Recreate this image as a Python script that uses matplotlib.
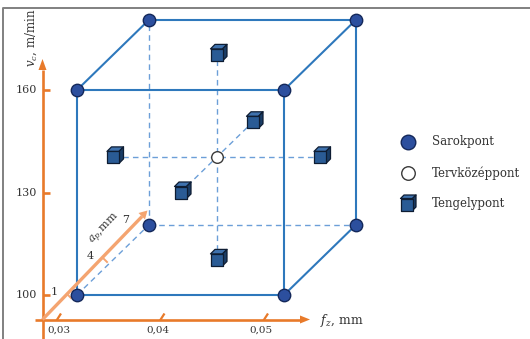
import itertools
import matplotlib
matplotlib.use("Agg")
import matplotlib.pyplot as plt
from matplotlib.patches import Polygon

# Factor levels of the face-centred central composite design
FZ_LEVELS = [0.03, 0.04, 0.05]      # feed per tooth, mm
VC_LEVELS = [100, 130, 160]         # cutting speed, m/min
AP_LEVELS = [1, 4, 7]               # depth of cut, mm

FZ_TICK_LABELS = ["0,03", "0,04", "0,05"]
VC_TICK_LABELS = ["100", "130", "160"]
AP_TICK_LABELS = ["1", "4", "7"]

LEGEND_LABELS = ["Sarokpont", "Tervközéppont", "Tengelypont"]

# Oblique projection (canvas units, y downward)
X0, Y0 = 77.0, 295.0
SX = 103.5 / 0.01       # per mm of f_z
SY = 102.5 / 30.0       # per m/min of v_c
DX, DY = 12.0, -11.7    # per mm of a_p


def proj(fz, vc, ap):
    x = X0 + (fz - FZ_LEVELS[0]) * SX + (ap - AP_LEVELS[0]) * DX
    y = Y0 - (vc - VC_LEVELS[0]) * SY + (ap - AP_LEVELS[0]) * DY
    return x, y


ORANGE = "#E87A2A"
ORANGE_LIGHT = "#F4A470"
EDGE_BLUE = "#2E78BC"
DASH_BLUE = "#6C9FD8"
DOT_FILL = "#2C4F9E"
DOT_EDGE = "#14285A"
TEXT = "#333333"
SERIF = "DejaVu Serif"

plt.rcParams["mathtext.fontset"] = "dejavuserif"

fig = plt.figure(figsize=(5.30, 3.39), dpi=100)
ax = fig.add_axes([0, 0, 1, 1])
ax.set_xlim(0, 530)
ax.set_ylim(339, 0)
ax.axis("off")

# frame
ax.plot([3, 3, 530], [339, 7.5, 7.5], color="#808080", lw=1.4,
        solid_capstyle="butt", zorder=1)

lo_f, hi_f = FZ_LEVELS[0], FZ_LEVELS[-1]
lo_v, hi_v = VC_LEVELS[0], VC_LEVELS[-1]
lo_a, hi_a = AP_LEVELS[0], AP_LEVELS[-1]
mid_f, mid_v, mid_a = FZ_LEVELS[1], VC_LEVELS[1], AP_LEVELS[1]


def seg(p, q, **kw):
    ax.plot([p[0], q[0]], [p[1], q[1]], **kw)


solid = dict(color=EDGE_BLUE, lw=1.5, zorder=3, solid_capstyle="round")
dashed = dict(color=DASH_BLUE, lw=1.0, zorder=2, ls=(0, (4, 3)))

# visible cube edges
visible = [
    ((lo_f, lo_v, lo_a), (hi_f, lo_v, lo_a)),
    ((lo_f, hi_v, lo_a), (hi_f, hi_v, lo_a)),
    ((lo_f, lo_v, lo_a), (lo_f, hi_v, lo_a)),
    ((hi_f, lo_v, lo_a), (hi_f, hi_v, lo_a)),
    ((lo_f, hi_v, hi_a), (hi_f, hi_v, hi_a)),
    ((hi_f, lo_v, hi_a), (hi_f, hi_v, hi_a)),
    ((lo_f, hi_v, lo_a), (lo_f, hi_v, hi_a)),
    ((hi_f, hi_v, lo_a), (hi_f, hi_v, hi_a)),
    ((hi_f, lo_v, lo_a), (hi_f, lo_v, hi_a)),
]
hidden = [
    ((lo_f, lo_v, hi_a), (lo_f, hi_v, hi_a)),
    ((lo_f, lo_v, hi_a), (hi_f, lo_v, hi_a)),
    ((lo_f, lo_v, lo_a), (lo_f, lo_v, hi_a)),
]
for a, b in visible:
    seg(proj(*a), proj(*b), **solid)
for a, b in hidden:
    seg(proj(*a), proj(*b), **dashed)

# axial lines through the centre point
seg(proj(lo_f, mid_v, mid_a), proj(hi_f, mid_v, mid_a), **dashed)
seg(proj(mid_f, lo_v, mid_a), proj(mid_f, hi_v, mid_a), **dashed)
seg(proj(mid_f, mid_v, lo_a), proj(mid_f, mid_v, hi_a), **dashed)

# corner points
corners = [proj(f, v, a) for f, v, a in itertools.product(
    [lo_f, hi_f], [lo_v, hi_v], [lo_a, hi_a])]
ax.scatter([c[0] for c in corners], [c[1] for c in corners], s=80,
           c=DOT_FILL, edgecolors=DOT_EDGE, linewidths=1.0, zorder=5)

# centre point
cx, cy = proj(mid_f, mid_v, mid_a)
ax.scatter([cx], [cy], s=70, c="white", edgecolors="#3a3a3a",
           linewidths=1.0, zorder=5)


def cube_glyph(x, y, h=6.0, d=4.5):
    front = [(x - h, y + h), (x + h, y + h), (x + h, y - h), (x - h, y - h)]
    top = [(x - h, y - h), (x + h, y - h), (x + h + d, y - h - d),
           (x - h + d, y - h - d)]
    side = [(x + h, y + h), (x + h, y - h), (x + h + d, y - h - d),
            (x + h + d, y + h - d)]
    for pts, col in ((top, "#3F72AE"), (side, "#1A3D66"), (front, "#2A5B95")):
        ax.add_patch(Polygon(pts, closed=True, facecolor=col,
                             edgecolor="#0E1D33", lw=0.9, zorder=6,
                             joinstyle="round"))


# axial (face-centre) points
axial = [
    (lo_f, mid_v, mid_a), (hi_f, mid_v, mid_a),
    (mid_f, lo_v, mid_a), (mid_f, hi_v, mid_a),
    (mid_f, mid_v, lo_a), (mid_f, mid_v, hi_a),
]
for p in axial:
    cube_glyph(*proj(*p))

# --- coordinate axes ---
OX, OY = 42.5, 319.5
AXIS_DX = -19.0   # f_z tick shift along the bottom axis

# vertical axis (v_c)
ax.plot([OX, OX], [339, 70], color=ORANGE, lw=1.9, zorder=4,
        solid_capstyle="butt")
ax.add_patch(Polygon([(OX - 4, 70), (OX + 4, 70), (OX, 59)], closed=True,
                     facecolor=ORANGE, edgecolor="none", zorder=4))
for v, lab in zip(VC_LEVELS, VC_TICK_LABELS):
    _, ty = proj(lo_f, v, lo_a)
    ax.plot([OX, OX + 7], [ty, ty], color=ORANGE, lw=1.9, zorder=4,
            solid_capstyle="butt")
    ax.text(OX - 5, ty, lab, ha="right", va="center", fontsize=8,
            family=SERIF, color=TEXT)
ax.text(31, 38, r"$v_c$, m/min", rotation=90, ha="center", va="center",
        fontsize=8.5, family=SERIF, color=TEXT)

# horizontal axis (f_z)
ax.plot([35, 300], [OY, OY], color=ORANGE, lw=1.9, zorder=4,
        solid_capstyle="butt")
ax.add_patch(Polygon([(300, OY - 4), (300, OY + 4), (310, OY)], closed=True,
                     facecolor=ORANGE, edgecolor="none", zorder=4))
for f, lab in zip(FZ_LEVELS, FZ_TICK_LABELS):
    tx, _ = proj(f, lo_v, lo_a)
    tx += AXIS_DX
    ax.plot([tx - 1.5, tx + 3], [OY + 1, OY - 6], color=ORANGE, lw=1.6,
            zorder=4, solid_capstyle="butt")
    ax.text(tx - 4 if f != lo_f else tx + 1, OY + 6, lab, ha="center",
            va="top", fontsize=7.5, family=SERIF, color=TEXT)
ax.text(320, OY + 1, r"$f_z$, mm", ha="left", va="center", fontsize=9,
        family=SERIF, color=TEXT)

# depth axis (a_p)
TIP = (147.5, 210.5)
ax.plot([OX, 142], [OY, 216.5], color=ORANGE_LIGHT, lw=2.4, zorder=4,
        solid_capstyle="butt")
ax.add_patch(Polygon([(138.5, 213), (145, 219.5), TIP], closed=True,
                     facecolor=ORANGE_LIGHT, edgecolor="none", zorder=4))
A1 = (67.0, 294.0)
for a, lab in zip(AP_LEVELS, AP_TICK_LABELS):
    px = A1[0] + (a - lo_a) * 12.0
    py = A1[1] - (a - lo_a) * 12.0
    if a != hi_a:
        ax.plot([px, px + 4], [py, py + 4], color=ORANGE_LIGHT, lw=1.4,
                zorder=4)
    ax.text(px - 13, py - 2, lab, ha="center", va="center", fontsize=8,
            family=SERIF, color=TEXT)
ax.text(105, 229, r"$a_p$,mm", rotation=46, ha="center", va="center",
        fontsize=8, family=SERIF, color=TEXT, rotation_mode="anchor")

# --- legend ---
LX, TX = 408, 432
rows = [142, 173, 203]
ax.scatter([LX], [rows[0]], s=110, c=DOT_FILL, edgecolors=DOT_EDGE,
           linewidths=1.0, zorder=5)
ax.scatter([LX], [rows[1]], s=95, c="white", edgecolors="#3a3a3a",
           linewidths=1.0, zorder=5)
cube_glyph(LX - 1.5, rows[2] + 1.5, h=6, d=3.5)
for y, lab in zip(rows, LEGEND_LABELS):
    ax.text(TX, y, lab, ha="left", va="center", fontsize=8.5, family=SERIF,
            color=TEXT)

fig.savefig("out.png", dpi=100, facecolor="white")
